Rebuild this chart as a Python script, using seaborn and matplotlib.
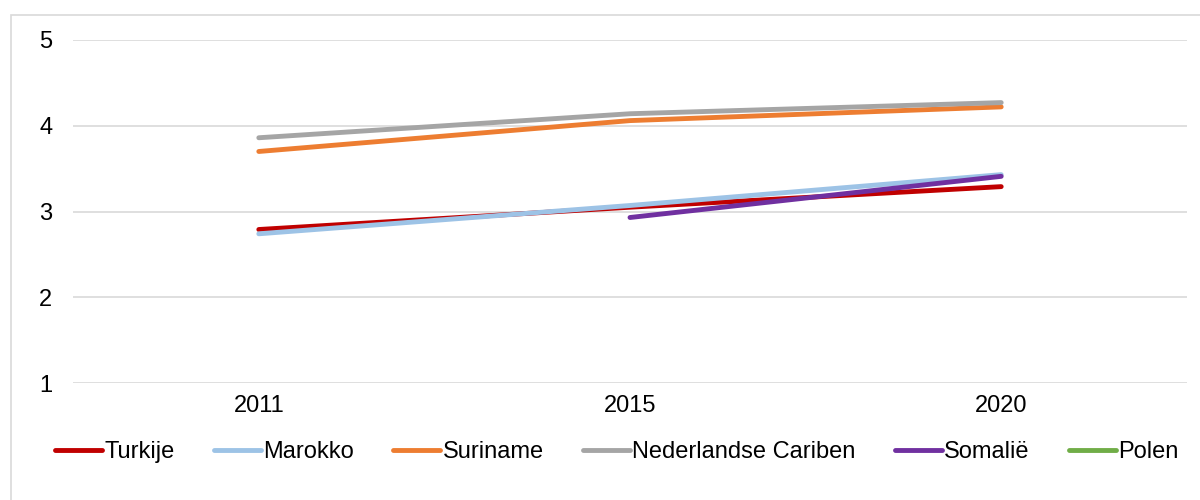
import matplotlib
matplotlib.use("Agg")
import matplotlib.pyplot as plt
import matplotlib.patches as mpatches
from matplotlib.lines import Line2D
import numpy as np
import pandas as pd
import seaborn as sns

years = ["2011", "2015", "2020"]
turkije = [2.79, 3.05, 3.29]
marokko = [2.74, 3.07, 3.43]
suriname = [3.70, 4.06, 4.22]
ned_cariben = [3.86, 4.14, 4.27]
somalie = [np.nan, 2.93, 3.41]
polen = [np.nan, np.nan, np.nan]

groups = ["Turkije", "Marokko", "Suriname", "Nederlandse Cariben", "Somalië", "Polen"]
series = [turkije, marokko, suriname, ned_cariben, somalie, polen]
colors = ["#C00000", "#9DC3E6", "#ED7D31", "#A5A5A5", "#7030A0", "#70AD47"]

rows = []
for g, vals in zip(groups, series):
    for i, (yr, v) in enumerate(zip(years, vals)):
        rows.append({"pos": i, "jaar": yr, "groep": g, "waarde": v})
df = pd.DataFrame(rows).dropna(subset=["waarde"])

sns.set_theme(style="white")
plt.rcParams["font.family"] = ["Liberation Sans", "DejaVu Sans"]
plt.rcParams["text.color"] = "#000000"

fig = plt.figure(figsize=(12, 5), dpi=100)
ax = fig.add_axes([0.061, 0.234, 0.928, 0.686])

palette = dict(zip(groups, colors))
sns.lineplot(data=df, x="pos", y="waarde", hue="groep", hue_order=groups,
             palette=palette, linewidth=3.5, sort=False, legend=False, ax=ax,
             solid_capstyle="round")

ax.set_xlim(-0.5, 2.5)
ax.set_ylim(1, 5)
ax.set_xticks(range(len(years)))
ax.set_xticklabels(years)
ax.set_yticks([1, 2, 3, 4, 5])
ax.set_xlabel("")
ax.set_ylabel("")
ax.yaxis.grid(True, color="#D9D9D9", linewidth=1.2)
ax.xaxis.grid(False)
ax.set_axisbelow(True)
for s in ax.spines.values():
    s.set_visible(False)
ax.tick_params(axis="both", length=0, labelsize=17, colors="#000000")
ax.tick_params(axis="y", pad=15)
ax.tick_params(axis="x", pad=9)

handles = [Line2D([0], [0], color=c, linewidth=3.5, solid_capstyle="round") for c in colors]
leg = fig.legend(handles, groups, loc="center", bbox_to_anchor=(0.514, 0.096), ncol=6,
                 frameon=False, fontsize=17, handlelength=2.0, handletextpad=0.1,
                 columnspacing=1.65)
for t in leg.get_texts():
    t.set_color("#000000")

# outer chart frame
fig.patches.append(mpatches.Rectangle((11 / 1200, -0.1), 1.2, 1 - 15 / 500 + 0.1,
                                      transform=fig.transFigure, fill=False,
                                      edgecolor="#D9D9D9", linewidth=1.2))

fig.savefig("out.png", dpi=100)
